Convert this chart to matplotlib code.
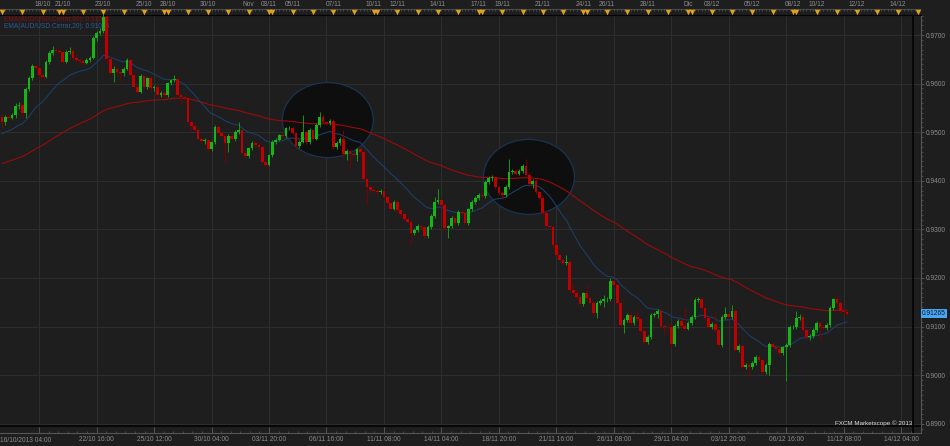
import numpy as np
import pandas as pd
import matplotlib
matplotlib.use("Agg")
import matplotlib.pyplot as plt
from matplotlib.patches import Ellipse

# AUD/USD 4h candles, 16/10/2013 00:00 .. 11/12/2013 12:00
open_0 = 0.9531
closes = [
    0.9522, 0.9532, 0.9530, 0.9535, 0.9553, 0.9556, 0.9539, 0.9588, 0.9612, 0.9636,
    0.9632, 0.9618, 0.9614, 0.9645, 0.9662, 0.9670, 0.9668, 0.9664, 0.9645, 0.9666,
    0.9667, 0.9652, 0.9649, 0.9647, 0.9643, 0.9648, 0.9653, 0.9693, 0.9705, 0.9709,
    0.9738, 0.9650, 0.9622, 0.9631, 0.9624, 0.9621, 0.9631, 0.9649, 0.9618, 0.9594,
    0.9583, 0.9615, 0.9594, 0.9611, 0.9590, 0.9594, 0.9577, 0.9580, 0.9576, 0.9601,
    0.9607, 0.9609, 0.9577, 0.9572, 0.9570, 0.9520, 0.9513, 0.9505, 0.9487, 0.9482,
    0.9484, 0.9465, 0.9480, 0.9511, 0.9498, 0.9493, 0.9478, 0.9493, 0.9485, 0.9501,
    0.9504, 0.9457, 0.9451, 0.9467, 0.9478, 0.9474, 0.9469, 0.9439, 0.9433, 0.9453,
    0.9480, 0.9484, 0.9494, 0.9492, 0.9508, 0.9509, 0.9498, 0.9472, 0.9480, 0.9501,
    0.9480, 0.9504, 0.9487, 0.9515, 0.9532, 0.9520, 0.9518, 0.9524, 0.9470, 0.9478,
    0.9487, 0.9455, 0.9462, 0.9455, 0.9453, 0.9465, 0.9460, 0.9403, 0.9388, 0.9381,
    0.9379, 0.9376, 0.9380, 0.9366, 0.9354, 0.9343, 0.9357, 0.9339, 0.9332, 0.9321,
    0.9316, 0.9293, 0.9299, 0.9307, 0.9304, 0.9286, 0.9305, 0.9328, 0.9357, 0.9360,
    0.9350, 0.9302, 0.9306, 0.9323, 0.9314, 0.9336, 0.9333, 0.9314, 0.9341, 0.9357,
    0.9364, 0.9371, 0.9369, 0.9398, 0.9405, 0.9407, 0.9387, 0.9374, 0.9371, 0.9387,
    0.9419, 0.9421, 0.9415, 0.9421, 0.9430, 0.9412, 0.9393, 0.9400, 0.9376, 0.9364,
    0.9333, 0.9306, 0.9305, 0.9268, 0.9247, 0.9237, 0.9231, 0.9233, 0.9175, 0.9170,
    0.9160, 0.9147, 0.9169, 0.9158, 0.9149, 0.9127, 0.9148, 0.9153, 0.9156, 0.9157,
    0.9194, 0.9186, 0.9148, 0.9103, 0.9114, 0.9124, 0.9107, 0.9119, 0.9115, 0.9090,
    0.9069, 0.9079, 0.9124, 0.9126, 0.9133, 0.9101, 0.9100, 0.9099, 0.9064, 0.9101,
    0.9112, 0.9101, 0.9096, 0.9107, 0.9120, 0.9155, 0.9156, 0.9138, 0.9117, 0.9100,
    0.9105, 0.9092, 0.9062, 0.9120, 0.9126, 0.9119, 0.9133, 0.9052, 0.9060, 0.9016,
    0.9021, 0.9017, 0.9026, 0.9037, 0.9031, 0.9007, 0.9021, 0.9064, 0.9059, 0.9053,
    0.9046, 0.9057, 0.9062, 0.9099, 0.9100, 0.9117, 0.9120, 0.9092, 0.9079, 0.9081,
    0.9093, 0.9108, 0.9099, 0.9098, 0.9103, 0.9138, 0.9156, 0.9148, 0.9133, 0.9130,
    0.91265,
]
highs = [
    0.9535, 0.9536, 0.9537, 0.9540, 0.9560, 0.9562, 0.9560, 0.9592, 0.9615, 0.9640,
    0.9641, 0.9636, 0.9622, 0.9648, 0.9668, 0.9678, 0.9674, 0.9672, 0.9670, 0.9670,
    0.9676, 0.9676, 0.9660, 0.9654, 0.9651, 0.9652, 0.9657, 0.9697, 0.9708, 0.9714,
    0.9745, 0.9742, 0.9655, 0.9636, 0.9635, 0.9628, 0.9634, 0.9653, 0.9652, 0.9621,
    0.9598, 0.9620, 0.9618, 0.9614, 0.9615, 0.9597, 0.9598, 0.9584, 0.9584, 0.9604,
    0.9610, 0.9618, 0.9612, 0.9581, 0.9576, 0.9574, 0.9524, 0.9518, 0.9509, 0.9490,
    0.9488, 0.9487, 0.9482, 0.9514, 0.9515, 0.9503, 0.9497, 0.9496, 0.9500, 0.9504,
    0.9522, 0.9507, 0.9461, 0.9470, 0.9482, 0.9484, 0.9477, 0.9472, 0.9442, 0.9456,
    0.9483, 0.9488, 0.9497, 0.9498, 0.9511, 0.9513, 0.9512, 0.9501, 0.9484, 0.9535,
    0.9505, 0.9508, 0.9507, 0.9519, 0.9542, 0.9537, 0.9524, 0.9528, 0.9527, 0.9482,
    0.9491, 0.9504, 0.9466, 0.9466, 0.9459, 0.9468, 0.9469, 0.9463, 0.9407, 0.9392,
    0.9385, 0.9383, 0.9384, 0.9383, 0.9370, 0.9358, 0.9361, 0.9360, 0.9343, 0.9336,
    0.9325, 0.9320, 0.9303, 0.9311, 0.9311, 0.9308, 0.9309, 0.9332, 0.9367, 0.9383,
    0.9364, 0.9354, 0.9310, 0.9327, 0.9327, 0.9340, 0.9340, 0.9337, 0.9345, 0.9361,
    0.9368, 0.9375, 0.9376, 0.9402, 0.9409, 0.9411, 0.9410, 0.9391, 0.9378, 0.9391,
    0.9444, 0.9425, 0.9425, 0.9425, 0.9434, 0.9444, 0.9416, 0.9404, 0.9404, 0.9380,
    0.9368, 0.9337, 0.9310, 0.9308, 0.9272, 0.9251, 0.9240, 0.9247, 0.9237, 0.9190,
    0.9174, 0.9164, 0.9172, 0.9186, 0.9162, 0.9153, 0.9152, 0.9157, 0.9165, 0.9160,
    0.9199, 0.9198, 0.9190, 0.9152, 0.9118, 0.9128, 0.9128, 0.9123, 0.9134, 0.9119,
    0.9094, 0.9083, 0.9128, 0.9130, 0.9137, 0.9137, 0.9105, 0.9105, 0.9105, 0.9105,
    0.9116, 0.9116, 0.9138, 0.9111, 0.9124, 0.9159, 0.9160, 0.9160, 0.9142, 0.9121,
    0.9109, 0.9131, 0.9096, 0.9124, 0.9140, 0.9130, 0.9144, 0.9137, 0.9064, 0.9064,
    0.9025, 0.9025, 0.9030, 0.9041, 0.9041, 0.9035, 0.9025, 0.9068, 0.9068, 0.9063,
    0.9057, 0.9061, 0.9066, 0.9103, 0.9104, 0.9133, 0.9126, 0.9124, 0.9096, 0.9085,
    0.9097, 0.9112, 0.9112, 0.9103, 0.9107, 0.9142, 0.9158, 0.9165, 0.9152, 0.9137,
    0.9134,
]
lows = [
    0.9509, 0.9515, 0.9526, 0.9527, 0.9530, 0.9548, 0.9530, 0.9530, 0.9584, 0.9608,
    0.9628, 0.9610, 0.9605, 0.9611, 0.9641, 0.9658, 0.9664, 0.9660, 0.9640, 0.9642,
    0.9660, 0.9648, 0.9645, 0.9642, 0.9639, 0.9640, 0.9644, 0.9650, 0.9688, 0.9700,
    0.9705, 0.9640, 0.9618, 0.9603, 0.9618, 0.9605, 0.9615, 0.9627, 0.9614, 0.9590,
    0.9578, 0.9580, 0.9590, 0.9588, 0.9585, 0.9584, 0.9572, 0.9573, 0.9572, 0.9573,
    0.9597, 0.9603, 0.9574, 0.9558, 0.9566, 0.9517, 0.9505, 0.9502, 0.9484, 0.9478,
    0.9476, 0.9459, 0.9462, 0.9476, 0.9495, 0.9489, 0.9439, 0.9460, 0.9482, 0.9481,
    0.9497, 0.9454, 0.9446, 0.9447, 0.9464, 0.9470, 0.9465, 0.9436, 0.9425, 0.9430,
    0.9449, 0.9476, 0.9481, 0.9488, 0.9489, 0.9504, 0.9495, 0.9465, 0.9468, 0.9477,
    0.9476, 0.9476, 0.9483, 0.9484, 0.9511, 0.9516, 0.9514, 0.9514, 0.9466, 0.9465,
    0.9474, 0.9450, 0.9443, 0.9426, 0.9448, 0.9440, 0.9456, 0.9399, 0.9350, 0.9377,
    0.9375, 0.9372, 0.9373, 0.9362, 0.9350, 0.9339, 0.9340, 0.9335, 0.9328, 0.9317,
    0.9312, 0.9268, 0.9289, 0.9295, 0.9300, 0.9280, 0.9282, 0.9301, 0.9324, 0.9352,
    0.9346, 0.9297, 0.9282, 0.9302, 0.9309, 0.9310, 0.9329, 0.9310, 0.9310, 0.9337,
    0.9353, 0.9360, 0.9365, 0.9365, 0.9394, 0.9400, 0.9383, 0.9370, 0.9362, 0.9367,
    0.9383, 0.9414, 0.9411, 0.9411, 0.9417, 0.9408, 0.9389, 0.9385, 0.9372, 0.9360,
    0.9329, 0.9302, 0.9300, 0.9264, 0.9243, 0.9233, 0.9226, 0.9227, 0.9171, 0.9166,
    0.9156, 0.9143, 0.9143, 0.9154, 0.9145, 0.9123, 0.9117, 0.9144, 0.9141, 0.9150,
    0.9153, 0.9182, 0.9144, 0.9099, 0.9086, 0.9110, 0.9103, 0.9103, 0.9111, 0.9086,
    0.9065, 0.9064, 0.9075, 0.9120, 0.9118, 0.9097, 0.9083, 0.9095, 0.9055, 0.9060,
    0.9097, 0.9097, 0.9092, 0.9092, 0.9103, 0.9116, 0.9150, 0.9134, 0.9113, 0.9096,
    0.9096, 0.9088, 0.9058, 0.9058, 0.9116, 0.9115, 0.9115, 0.9048, 0.9048, 0.9012,
    0.9012, 0.8997, 0.9013, 0.9022, 0.9027, 0.9003, 0.9003, 0.9000, 0.9055, 0.9049,
    0.9042, 0.9042, 0.8989, 0.9058, 0.9095, 0.9096, 0.9113, 0.9088, 0.9075, 0.9072,
    0.9077, 0.9089, 0.9072, 0.9094, 0.9094, 0.9099, 0.9134, 0.9144, 0.9129, 0.9126,
    0.9122,
]

# EMA values at the first bar (the indicators start before the visible window)
ema20_start = 0.9494
ema80_start = 0.9433

# highlighted zones: centre bar, centre price
zone_centres = [(96.4, 0.9525), (155.9, 0.9408)]

# calendar (bar index -> label)
day_bars = [0, 6, 12, 17, 18, 24, 30, 36, 42, 48, 49, 55, 61, 67, 73, 79, 80, 86, 92,
            98, 104, 110, 111, 117, 123, 129, 135, 141, 142, 148, 154, 160, 166, 172,
            173, 179, 185, 191, 197, 203, 204, 210, 216, 222, 228, 234, 235, 241, 247,
            253, 259, 265, 271]
top_bars = [12, 18, 30, 42, 49, 61, 73, 79, 86, 98, 110, 117, 129, 141, 148, 160,
            172, 179, 191, 203, 210, 222, 234, 241, 253, 265]
top_labels = ['18/10', '21/10', '23/10', '25/10', '28/10', '30/10', 'Nov', '03/11',
              '05/11', '07/11', '10/11', '12/11', '14/11', '17/11', '19/11', '21/11',
              '24/11', '26/11', '28/11', 'Dic', '03/12', '05/12', '08/12', '10/12',
              '12/12', '14/12']
grid_bars = list(range(11, 267, 17))
bottom_labels = ['', '22/10 16:00', '25/10 12:00', '30/10 04:00', '03/11 20:00',
                 '06/11 16:00', '11/11 08:00', '14/11 04:00', '18/11 20:00',
                 '21/11 16:00', '26/11 08:00', '29/11 04:00', '03/12 20:00',
                 '06/12 16:00', '11/12 08:00', '14/12 04:00']
price_ticks = [0.89, 0.90, 0.91, 0.92, 0.93, 0.94, 0.95, 0.96, 0.97]

BG = '#1e1e1e'
GRID = '#2d2d2d'
TXT = '#8c8c8c'
FONT = 'Liberation Sans'
FS = 4.8

plt.rcParams['font.family'] = [FONT, 'DejaVu Sans']

closes = np.array(closes)
highs = np.array(highs)
lows = np.array(lows)
opens = np.r_[open_0, closes[:-1]]
x = np.arange(len(closes))

ema20 = pd.Series(np.r_[ema20_start, closes]).ewm(span=20, adjust=False).mean().values[1:]
ema80 = pd.Series(np.r_[ema80_start, closes]).ewm(span=80, adjust=False).mean().values[1:]

W, H = 950, 446
fig = plt.figure(figsize=(W / 100, H / 100), dpi=100, facecolor=BG)

# pixel layout of the reference
bar_px, bar0_px = 3.38, 2.0
def px_to_bar(p):
    return (p - bar0_px) / bar_px
def px_to_price(p):
    return 0.97 - (p - 35) / 4860.0

ax = fig.add_axes([0, 1 - 433 / H, 920.7 / W, (433 - 15) / H])
ax.set_facecolor(BG)
ax.set_xlim(px_to_bar(0), px_to_bar(920.7))
ax.set_ylim(px_to_price(433), px_to_price(15))
ax.set_axisbelow(True)

# grid and ticks
ax.set_xticks(grid_bars)
ax.set_xticklabels(bottom_labels)
ax.set_xticks(np.arange(11, 270, 17 / 6), minor=True)
ax.set_yticks(price_ticks)
ax.set_yticklabels([f'{p:.4f}' for p in price_ticks])
ax.set_yticks(np.arange(0.889, 0.9745, 0.001), minor=True)
ax.grid(True, which='major', color=GRID, lw=0.8)
ax.yaxis.tick_right()
ax.tick_params(axis='y', which='major', direction='out', length=2.5, width=0.6,
               color='#5a5a5a', labelcolor=TXT, labelsize=FS, pad=1.2)
ax.tick_params(axis='y', which='minor', direction='out', length=1.3, width=0.5,
               color='#5a5a5a')
ax.tick_params(axis='x', which='major', direction='in', length=4, width=0.6,
               color='#5a5a5a', labelcolor=TXT, labelsize=FS, pad=2.3)
ax.tick_params(axis='x', which='minor', direction='in', length=1.8, width=0.5,
               color='#5a5a5a')
ax.spines['left'].set_visible(False)
ax.spines['top'].set_color('black')
ax.spines['right'].set_color('#555555')
ax.spines['bottom'].set_color('#555555')
ax.spines['right'].set_linewidth(0.8)
ax.spines['bottom'].set_linewidth(0.8)

# inner frame of the price pane
ax.axvline(px_to_bar(913.3), color='black', lw=1.1, zorder=4)
ax.axhline(px_to_price(425.5), color='black', lw=1.1, zorder=4)

# highlighted zones
for cx, cy in zone_centres:
    ax.add_patch(Ellipse((cx, cy), width=26.9, height=0.01543, facecolor='#0e0e0e',
                         edgecolor='#1b3352', lw=0.9, zorder=1))

# moving averages
ax.plot(x, ema80, color='#9c0a0a', lw=0.8, zorder=2)
ax.plot(x, ema20, color='#1d3d68', lw=0.8, zorder=2)

ax.text(4 / 920.7, (433 - 19.5) / 418, f'EMA(AUD/USD.Cerrar,80): {ema80[-1]:.5f}',
        transform=ax.transAxes, color='#8a0c0c', fontsize=FS, va='center', zorder=1.5)
ax.text(4 / 920.7, (433 - 26) / 418, f'EMA(AUD/USD.Cerrar,20): {ema20[-1]:.5f}',
        transform=ax.transAxes, color='#2a5a95', fontsize=FS, va='center', zorder=1.5)

# candles
up = closes >= opens
body_lo = np.minimum(opens, closes)
body_h = np.maximum(np.abs(closes - opens), 0.00012)
ax.vlines(x[up], lows[up], highs[up], color='#109a10', lw=0.7, zorder=3)
ax.vlines(x[~up], lows[~up], highs[~up], color='#7c0000', lw=0.7, zorder=3)
ax.bar(x[up], body_h[up], bottom=body_lo[up], width=0.8, color='#14b814', lw=0, zorder=3.1)
ax.bar(x[~up], body_h[~up], bottom=body_lo[~up], width=0.8, color='#c00000', lw=0, zorder=3.1)

# last price tag
ax.text(1 + 1.2 / 920.7, closes[-1], f'{closes[-1]:.5f}', transform=ax.get_yaxis_transform(),
        fontsize=FS, color='#08162a', va='center', ha='left', clip_on=False, zorder=5,
        bbox=dict(boxstyle='square,pad=0.12', facecolor='#4aa6f2', edgecolor='none'))

fig.text(0.5 / W, 1 - 440 / H, '16/10/2013 04:00', color=TXT, fontsize=FS,
         ha='left', va='center')
fig.text(912 / W, 1 - 423 / H, 'FXCM Marketscope \u00a9 2013', color='#dddddd',
         fontsize=4.5, ha='right', va='center')

# top calendar strip
axt = fig.add_axes([0, 1 - 15 / H, 920.7 / W, 15 / H])
axt.set_facecolor(BG)
axt.set_xlim(ax.get_xlim())
axt.set_ylim(15, 0)
axt.axis('off')
axt.axhline(9.3, color='#4a4a4a', lw=0.8)
axt.vlines(np.arange(0, 272), 9.3, 11.3, color='#555555', lw=0.5)
axt.vlines(day_bars, 9.3, 15, color='#111111', lw=0.6)
axt.scatter(day_bars, np.full(len(day_bars), 11.6), marker='v', s=16, color='#e0a020',
            lw=0, zorder=3)
for b, lab in zip(top_bars, top_labels):
    axt.text(b, 4.3, lab, color=TXT, fontsize=FS, ha='center', va='center')

fig.savefig('out.png', dpi=100, facecolor=BG)
